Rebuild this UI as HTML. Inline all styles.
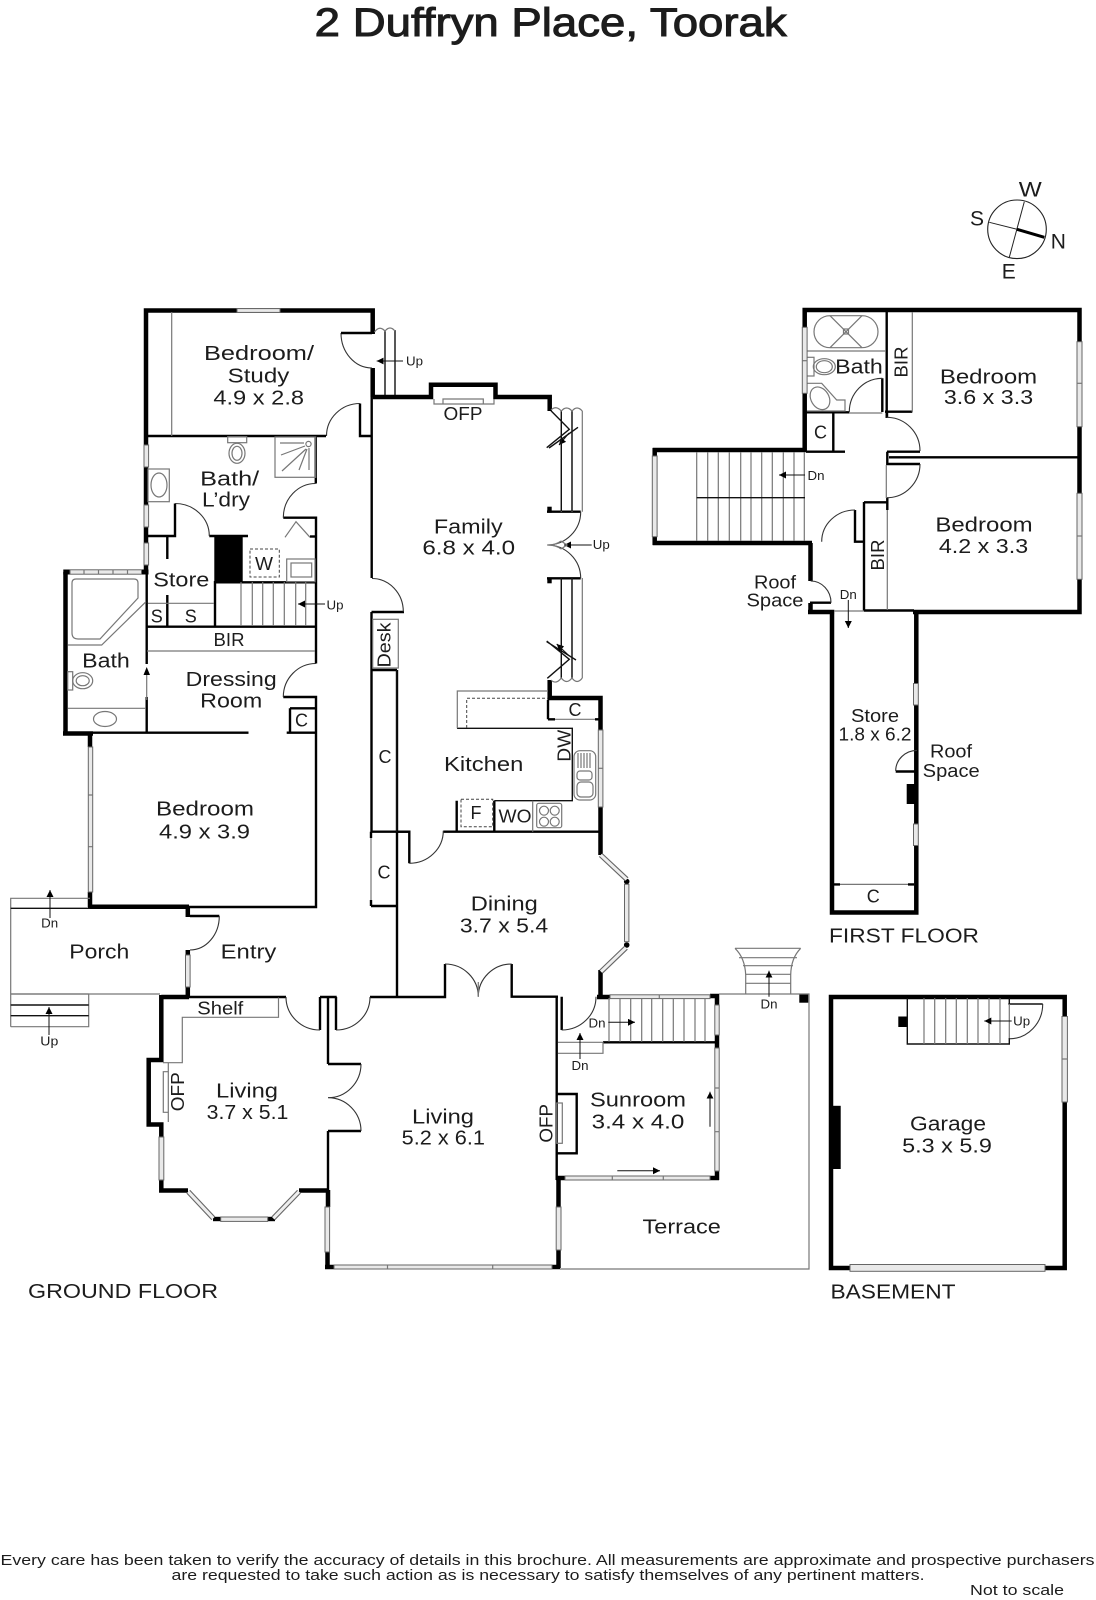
<!DOCTYPE html>
<html lang="en"><head><meta charset="utf-8"><title>2 Duffryn Place, Toorak</title>
<style>
html,body{margin:0;padding:0;background:#fff}
svg{display:block}
text{font-family:"Liberation Sans",sans-serif;fill:#1c1c1c;text-anchor:middle;font-size:20px}
.s{font-size:18px}.x{font-size:12.5px}
.t{stroke:#000;stroke-width:4.5;fill:none}
.m{stroke:#000;stroke-width:2.4;fill:none}
.n{stroke:#111;stroke-width:1.4;fill:none}
.g{stroke:#777;stroke-width:1.2;fill:none}
.a{stroke:#333;stroke-width:1.1;fill:none}
.d{stroke:#444;stroke-width:1;fill:none;stroke-dasharray:3 2}
.w{fill:#e9e9e9;stroke:#666;stroke-width:1}
.wl{stroke:#666;stroke-width:5.2;fill:none}
.wi{stroke:#eee;stroke-width:3;fill:none}
.f{stroke:#111;stroke-width:1;fill:none}
</style></head><body>
<svg xmlns="http://www.w3.org/2000/svg" width="1096" height="1600" viewBox="0 0 1096 1600">
<defs><marker id="h" markerUnits="userSpaceOnUse" markerWidth="8" markerHeight="8" refX="7" refY="3.5" orient="auto"><path d="M0 0L7 3.5L0 7Z" fill="#000"/></marker></defs>
<rect width="1096" height="1600" fill="#fff"/>

<text x="550.7" y="36" style="font-size:40px;stroke:#1c1c1c;stroke-width:1" textLength="472" lengthAdjust="spacingAndGlyphs">2 Duffryn Place, Toorak</text>

<!-- GROUND FLOOR thick walls -->
<path class="t" d="M146 445V310.5H372.7V334M372.7 368V397M372.7 397H431V384.7H495.5V397H549.7V411"/>
<path class="t" d="M146 445V573"/>
<path class="t" d="M65.5 735V572M63 733.5H93M90 733V747M90 892V907M88 906.7H189M187.8 906V917M187.8 950V955M187.8 987V998"/>
<path class="t" d="M161.3 997H189M161.3 995V1060H148.7V1124.5H161.3V1137M161.3 1180V1190.5H188"/>
<path class="t" d="M299 1190.5H328M328 1190V1207M327.5 1252V1268M325 1267H334"/>
<path class="t" d="M549.7 680V698H600.5V730M600.5 806V855M600.5 970V997M597 997H610"/>
<path class="t" d="M710 996H719M717 994V1005M717 1035V1048M710 1178H719M717 1171V1180M556 1178H565M558.5 1178V1207M558.5 1250V1268M552 1267H560"/>
<rect x="63.3" y="569.5" width="7" height="5" fill="#000"/><rect x="141.5" y="569.5" width="7" height="5" fill="#000"/>
<rect x="214.3" y="536.7" width="28.4" height="45" fill="#000"/>
<rect x="799.3" y="994" width="9" height="8.7" fill="#000"/>
<rect x="213" y="1216.8" width="8" height="4.4" fill="#000"/><rect x="267.7" y="1216.8" width="7.3" height="4.4" fill="#000"/>
<rect x="547.3" y="506.7" width="4.4" height="6" fill="#000"/><rect x="547.3" y="578" width="4.4" height="5.3" fill="#000"/>
<circle cx="626.7" cy="881.5" r="2.8" fill="#000"/><circle cx="626.7" cy="945" r="2.8" fill="#000"/>

<!-- steps beside bedroom/study -->
<path class="n" d="M385 330V395M395 330V395"/>
<path class="g" d="M374.5 332Q379.5 325 385 331Q390 325 395 331"/>
<path class="f" d="M403 361H376.7" marker-end="url(#h)"/>
<text class="x" x="414.5" y="365.7" textLength="17" lengthAdjust="spacingAndGlyphs">Up</text>

<!-- ground thin walls -->
<path class="m" d="M146 436H326M360 403.5V436H371M371.7 397V578M371.5 612H404M371.5 612V832M371 831.7H409.3V863.3M371 831.7V838M371 900V906M371 906H397M397 670V997M371 670H397"/>
<path class="m" d="M315.8 436V483.5M283.3 517.7H316V663.5M283.3 697H316V907H189M190 916H219.3"/>
<path class="m" d="M175 503.5V536H148M209.3 536H248M167.3 536V559M167.3 595V626M215 581V626M215 582.3H316M147 626.7H316"/>
<path class="m" d="M146.7 573V664M146.7 697V733M93 732.7H248.5M286.7 732.7H316M290 708.3V732.7M290 708.3H316"/>
<path class="m" d="M189 997H286M320 997V1030M320 997H336.7M328 997V1064M336 997V1030M370 997H445V964M511.7 964V996.7H558M328 1064H361M328 1131H361M328 1131V1190"/>
<path class="m" d="M561.7 996.7V1030M556.7 996.7V1180M556.7 1094H576.7V1153.3H556.7M397 831.7H409.3M443.3 831.7H600.5M456.7 800.7V831.7M494.3 800.7V831.7"/>
<path class="m" d="M547 511.7H580.7M547 578.3H580.7M548 719.3V700M548 719.3H555M595 719.3H600M603 1042.3H715"/>
<path class="n" d="M457 728.3H572.3V800.7H494.3"/>
<path class="g" d="M457.3 728.3V691H548M532.7 800.7V831.7"/>
<path class="d" d="M466.7 728V698.3H548"/>
<path class="g" d="M555 719.3H595"/>
<path class="n" d="M396.7 670V832"/>
<path class="g" d="M371 838V900"/>

<!-- ground arcs -->
<path class="a" d="M341 333A31 35 0 0 0 372 368M360 403.5A33.5 32.5 0 0 0 326.5 436M315.7 483.5A32.4 34.2 0 0 0 283.3 517.7M175 503.5A34.3 32.5 0 0 1 209.3 536M316 663.5A32.7 33.5 0 0 0 283.3 697M219.3 916A29.3 34 0 0 1 190 950M286 997A34 33 0 0 0 320 1030M336 1030A34 33 0 0 0 370 997M361 1064A33 33.7 0 0 1 328 1097.7M328 1097.7A33 33.3 0 0 1 361 1131M372 578.5A31.3 33.2 0 0 1 403.3 611.7M409.3 863.3A34 32.6 0 0 0 443.3 830.7M445 964A33.3 32.7 0 0 1 478.3 996.7M478.3 996.7A33.4 32.7 0 0 1 511.7 964M561.7 1030A34.3 33.3 0 0 0 596 996.7M580.7 511.7A33.4 33.3 0 0 1 547.3 545M547.3 545A33.4 33.3 0 0 1 580.7 578.3"/>
<path class="m" d="M341 333H372"/>
<path class="g" d="M478.3 996.7V982"/>

<!-- ground windows -->
<rect class="w" x="237" y="308.6" width="43" height="3.8"/>
<rect class="w" x="144" y="445" width="4.6" height="22"/><rect class="w" x="144" y="505" width="4.6" height="22"/><rect class="w" x="144" y="543" width="4.6" height="22"/>
<rect class="w" x="70" y="569.8" width="71.5" height="4.4"/><path class="g" d="M84 569.8v4.4M98.5 569.8v4.4M113 569.8v4.4M127.5 569.8v4.4"/>
<rect class="w" x="88.3" y="747" width="4.4" height="145"/><path class="g" d="M88.3 795h4.4M88.3 846.7h4.4"/>
<rect class="w" x="185.5" y="955" width="4.6" height="32"/>
<rect class="w" x="159" y="1137" width="4.8" height="43"/>
<path class="wl" d="M188.3 1191.7L213.3 1218.3M273.3 1218.3L299 1191.7"/><path class="wi" d="M188.3 1191.7L213.3 1218.3M273.3 1218.3L299 1191.7"/>
<rect class="w" x="220.7" y="1217" width="47" height="4.4"/>
<rect class="w" x="325" y="1207" width="4.6" height="45"/>
<rect class="w" x="334" y="1265" width="218" height="4"/><path class="g" d="M387.5 1265v4M492.7 1265v4"/>
<rect class="w" x="556.2" y="1207" width="4.8" height="43"/>
<rect class="w" x="598.3" y="730" width="4.6" height="77"/><path class="g" d="M598.3 768.3h4.6"/>
<path class="wl" d="M600.7 855L626.7 879.3M626 947.7L601 971.7"/><path class="wi" d="M600.7 855L626.7 879.3M626 947.7L601 971.7"/>
<rect class="w" x="624.5" y="884.3" width="4.4" height="57.4"/>
<rect class="w" x="610" y="994.8" width="100" height="3.8"/><path class="g" d="M659.3 994.8v3.8"/>
<rect class="w" x="714.8" y="1005" width="4.4" height="30"/>
<rect class="w" x="714.8" y="1048" width="4.4" height="123"/><path class="g" d="M714.8 1088h4.4M714.8 1131.7h4.4"/>
<rect class="w" x="565" y="1176" width="145" height="4"/><path class="g" d="M612.3 1176v4M663.3 1176v4"/>

<!-- ground fixtures -->
<path class="g" d="M171.7 312V436"/>
<rect class="g" x="227.7" y="436.7" width="19" height="6"/>
<ellipse class="g" cx="237" cy="453.3" rx="8" ry="10"/><ellipse class="g" cx="237" cy="453.3" rx="5" ry="7"/>
<rect class="g" x="275" y="437" width="40.7" height="40.3"/>
<circle class="g" cx="308.5" cy="444" r="2.6"/>
<path class="g" d="M280 443H304M281 455L305 446M282 471L306 449M299 470L307 449M309 448V470"/>
<rect class="g" x="148" y="469" width="21.3" height="32.7"/><ellipse class="g" cx="159" cy="485" rx="8" ry="12"/>
<path class="g" d="M285 537.3L296 521.7L310 537.3"/>
<path class="m" d="M310 536.5H316"/>
<rect class="d" x="250" y="549" width="29.3" height="28"/>
<rect class="g" x="286.7" y="559" width="28.3" height="22.7"/><rect class="g" x="291" y="563" width="20.7" height="14"/>
<path class="g" d="M241 582V626M252.3 582V626M262.7 582V626M273.3 582V626M284.3 582V626M295.7 582V626M305.7 582V626M148 603.3H214"/>
<path class="f" d="M325 604H298" marker-end="url(#h)"/>
<path class="g" d="M147 651H315"/>
<path class="g" d="M72 583Q72 579 76 579H134Q138 579 138 583V598L100 639H78Q72 639 72 633Z"/>
<path class="g" d="M67.7 645H101.7L146 601.7"/>
<rect class="g" x="67.7" y="671.7" width="5" height="18.3"/>
<ellipse class="g" cx="82.7" cy="680.7" rx="10" ry="8"/><ellipse class="g" cx="82.7" cy="680.7" rx="6.5" ry="5"/>
<path class="g" d="M67.7 708.3H146"/><ellipse class="g" cx="105" cy="719" rx="11.5" ry="7.5"/>
<rect x="145.5" y="664" width="2.4" height="33" fill="#fff"/>
<path class="g" d="M146.7 700V673"/><path d="M143.5 675L146.7 667L150 675Z" fill="#000"/>
<rect class="g" x="372.7" y="619.3" width="25.6" height="48.7"/>
<path class="g" d="M10.7 908V898.3H90M10.7 908V994H160M10.7 1026.7H88.7V994M10.7 994V1026.7"/>
<path class="n" d="M10.7 908.3H90M10.7 1005H88.7M10.7 1015.7H88.7"/>
<path class="g" d="M10.7 994H88.7"/>
<path class="f" d="M50 918V890" marker-end="url(#h)"/>
<path class="f" d="M49 1035V1007" marker-end="url(#h)"/>
<path class="g" d="M278.5 997.5V1017.3H182.3V1062.7H163M168.3 1062.7V1122M163.3 1071.7H168.3V1112.3H163.3Z"/>
<path class="g" d="M434 399V404H494V399M443 399H483.3V404H443Z"/>
<path class="n" d="M551 410.7L569.3 429.3L546.7 447.7M549 448L578 427.3"/>
<path class="f" d="M569 433L559 445" marker-end="url(#h)"/>
<path class="n" d="M546.7 641L569.3 659.3L547.3 678.3M546.7 641.7L576 660"/>
<path class="f" d="M568.3 655L556.7 644" marker-end="url(#h)"/>
<path class="g" d="M561.3 411V511.7M572 411V511.7M582.3 411V511.7M561.3 578V678M572 578V678M582.3 578V678"/>
<path class="n" d="M561.3 411V511M572 411V511M561.3 578V678M572 578V678"/>
<path class="g" d="M551 410Q556 405 561.3 411Q566.5 405 572 411Q577 405 582.3 411M551 680Q556 685 561.3 678Q566.5 685 572 678Q577 685 582.3 678"/>
<path class="f" d="M591.7 545H564" marker-end="url(#h)"/>
<path class="g" d="M548 545Q556 545 561 541M548 545Q556 545 561 549M561 541L567 545L561 549"/>
<rect class="g" x="574" y="750.7" width="21.7" height="49.3" rx="6"/>
<path class="g" d="M578 753V768M581 753V768M584 753V768M587 753V768M590 753V768"/>
<rect class="g" x="577" y="771" width="15" height="9" rx="3"/><rect class="g" x="577" y="782" width="16" height="15" rx="4"/>
<rect class="d" x="461" y="799.3" width="31.7" height="27.4"/>
<rect class="g" x="536.7" y="803.3" width="25" height="24.4" rx="2"/>
<circle class="g" cx="544" cy="810.7" r="4.5"/><circle class="g" cx="554.7" cy="810.7" r="4.5"/><circle class="g" cx="544" cy="821.7" r="4.5"/><circle class="g" cx="554.7" cy="821.7" r="4.5"/>
<path class="g" d="M609 998V1041.7M620 998V1041.7M630.7 998V1041.7M641.7 998V1041.7M651.7 998V1041.7M662.7 998V1041.7M673.3 998V1041.7M684 998V1041.7M695 998V1041.7M705 998V1041.7"/>
<path class="g" d="M558 1042.3H603V1053.3H558"/>
<path class="f" d="M608.3 1022.3H635" marker-end="url(#h)"/>
<path class="f" d="M580 1059V1033" marker-end="url(#h)"/>
<rect class="g" x="556.7" y="1103" width="5.6" height="40.3"/>
<path class="f" d="M710 1126.7V1091.7" marker-end="url(#h)"/>
<path class="f" d="M617.3 1170.7H660" marker-end="url(#h)"/>
<path class="g" d="M719 994H809V1269H560"/>
<path class="g" d="M735 948.3H800.7M735 948.3Q745 958 745.7 975V994M800.7 948.3Q791 958 790.7 975V994M739 957.7H797M743 965.7H793M745.7 974.3H790.7M745.7 983.3H790.7"/>
<path class="f" d="M769 996.7V970.7" marker-end="url(#h)"/>

<!-- FIRST FLOOR -->
<path class="t" d="M804.7 327V310H1079.5V342M1079.5 427V493M1079.5 579V612H913M804.7 393V452M652.7 450H806.7M654.7 448V456M654.7 536V545M652.7 543H812M810.5 543V581M810.5 603V612M808 612H834.3M832 610V912.5H916.3V610M916.3 610V684M916.3 705V750M916.3 772V824M916.3 845.5V912"/>
<path class="m" d="M806 412.3H849.3M833.3 412V451M806 451.7H845M886.7 312V418M885 411.7H912.3M882.3 378.3V412M887 412V418M887 451.7H920M887.3 451.7V465M887 464H920M889 457.3H1078M887.3 498V510M864 502.3H888M864 502V611M855 510V541.7H864M864 610.5H914M810 602.7H831M895.7 771.5H916"/>
<rect x="906.7" y="784" width="8.3" height="20" fill="#000"/>
<path class="a" d="M882.3 378.3A33 33.7 0 0 0 849.3 412M886.7 417.3A33.3 33.7 0 0 1 920 451M920 464A33.3 33.7 0 0 1 886.7 497.7M855 510A33.3 31.7 0 0 0 821.7 541.7M810.7 581A20.3 21.7 0 0 1 831 602.7M895.7 771A21.3 20.6 0 0 1 917 750.4"/>
<path class="g" d="M849.3 413H882.3M886.3 465V498M912.3 312V412M887.3 510V610M834 611H864"/>
<path class="g" d="M806 351H886"/>
<path class="g" d="M830 315.7H862A16 16 0 0 1 862 347.7H830A16 16 0 0 1 830 315.7ZM830 315.7L862 347.7M862 315.7L830 347.7"/>
<rect class="g" x="843.5" y="329" width="5" height="5"/>
<rect class="g" x="806.7" y="357.3" width="7.3" height="18.7"/>
<ellipse class="g" cx="824.3" cy="366.7" rx="11" ry="8"/><ellipse class="g" cx="824.3" cy="366.7" rx="8" ry="6"/>
<path class="g" d="M807 383.3H821.7L836.7 400H845V411H807"/><ellipse class="g" cx="820" cy="398.3" rx="9" ry="12" transform="rotate(-30 820 398.3)"/>
<rect class="w" x="802.3" y="327.3" width="4.8" height="66"/><path class="g" d="M802.3 360.7h4.8"/>
<rect class="w" x="1077" y="341.7" width="5" height="85"/><path class="g" d="M1077 383.3h5"/>
<rect class="w" x="1077" y="493.3" width="5" height="86"/><path class="g" d="M1077 536h5"/>
<rect class="w" x="652.3" y="456" width="4.8" height="80.7"/>
<rect class="w" x="913.5" y="683.5" width="4.8" height="21.5"/>
<rect class="w" x="913.5" y="824" width="4.8" height="21.5"/>
<path class="g" d="M696.7 452V541M707.7 452V541M718.3 452V541M729.3 452V541M740.7 452V541M751 452V541M761.7 452V541M772.3 452V541M783.3 452V541M794 452V541M804.3 452V541"/>
<path class="n" d="M696.7 497.7H805"/>
<path class="f" d="M805 475H779" marker-end="url(#h)"/>
<path class="f" d="M848.3 600V628" marker-end="url(#h)"/>
<path class="g" d="M834 884.4H914"/><path class="m" d="M834 884.4H840M908 884.4H914"/>

<!-- compass -->
<circle cx="1017" cy="229.3" r="29.3" fill="none" stroke="#222" stroke-width="1.1"/>
<path d="M989.3 222.3L1017 229.3M1024.3 201.7L1009.3 257.3" stroke="#222" stroke-width="1" fill="none"/>
<path d="M1017 229.3L1044.3 237.3" stroke="#000" stroke-width="3" fill="none"/>

<!-- BASEMENT -->
<path class="t" d="M850 1268H831V997H1064.7V1017M1064.7 1102V1268H1045"/>
<rect class="w" x="850" y="1264.5" width="195" height="6.8"/>
<rect class="w" x="1062" y="1016.5" width="5.4" height="85.5"/><path class="g" d="M1062 1059h5.4"/>
<rect x="833" y="1105.8" width="7.7" height="63.2" fill="#000"/>
<rect x="898.3" y="1016.5" width="9" height="10.5" fill="#000"/>
<path class="n" d="M907.3 998V1044H1009.3V1038M1009.3 998V1004M1008.3 1004H1042.7"/>
<path class="a" d="M1042.7 1004A33.4 34.8 0 0 1 1009.3 1038.8"/>
<path class="g" d="M924 998V1044M934.7 998V1044M945.7 998V1044M956.3 998V1044M967.3 998V1044M978 998V1044M989 998V1044M1000 998V1044M1009.3 1004V1038"/>
<path class="f" d="M1011.7 1021H984.3" marker-end="url(#h)"/>

<!-- room labels -->
<text x="259" y="360" textLength="110" lengthAdjust="spacingAndGlyphs">Bedroom/</text>
<text x="258.5" y="382.7" textLength="61.7" lengthAdjust="spacingAndGlyphs">Study</text>
<text x="258.7" y="404.3" textLength="90.7" lengthAdjust="spacingAndGlyphs">4.9 x 2.8</text>
<text x="229.7" y="485.7" textLength="59" lengthAdjust="spacingAndGlyphs">Bath/</text>
<text x="226" y="506.7" textLength="48" lengthAdjust="spacingAndGlyphs">L’dry</text>
<text x="181.3" y="586.7" textLength="56" lengthAdjust="spacingAndGlyphs">Store</text>
<text class="s" x="156.7" y="622.3">S</text><text class="s" x="190.7" y="622.3">S</text>
<text class="s" x="264" y="570" textLength="18" lengthAdjust="spacingAndGlyphs">W</text>
<text class="x" x="335" y="609.3" textLength="17" lengthAdjust="spacingAndGlyphs">Up</text>
<text class="s" x="229" y="646" textLength="31" lengthAdjust="spacingAndGlyphs">BIR</text>
<text x="106" y="667.7" textLength="47.7" lengthAdjust="spacingAndGlyphs">Bath</text>
<text x="231.2" y="686" textLength="91" lengthAdjust="spacingAndGlyphs">Dressing</text>
<text x="231.2" y="707.3" textLength="62" lengthAdjust="spacingAndGlyphs">Room</text>
<text class="s" x="301.5" y="726.7">C</text>
<text class="s" transform="translate(390.7 645) rotate(-90)" textLength="45" lengthAdjust="spacingAndGlyphs">Desk</text>
<text class="s" x="385" y="763">C</text>
<text class="s" x="384" y="878.3">C</text>
<text x="205" y="815.7" textLength="98" lengthAdjust="spacingAndGlyphs">Bedroom</text>
<text x="204.5" y="838.3" textLength="91" lengthAdjust="spacingAndGlyphs">4.9 x 3.9</text>
<text x="99.3" y="958.3" textLength="60" lengthAdjust="spacingAndGlyphs">Porch</text>
<text x="248.5" y="958.3" textLength="55.7" lengthAdjust="spacingAndGlyphs">Entry</text>
<text class="s" x="220.3" y="1014.3" textLength="46" lengthAdjust="spacingAndGlyphs">Shelf</text>
<text class="x" x="49.7" y="927.7" textLength="17" lengthAdjust="spacingAndGlyphs">Dn</text>
<text class="x" x="49.3" y="1045.7" textLength="18" lengthAdjust="spacingAndGlyphs">Up</text>
<text class="s" transform="translate(184 1091.7) rotate(-90)" textLength="39" lengthAdjust="spacingAndGlyphs">OFP</text>
<text x="247" y="1097.7" textLength="62" lengthAdjust="spacingAndGlyphs">Living</text>
<text x="247.5" y="1119" textLength="81.7" lengthAdjust="spacingAndGlyphs">3.7 x 5.1</text>
<text x="123" y="1298" textLength="190" lengthAdjust="spacingAndGlyphs">GROUND FLOOR</text>
<text class="s" x="463" y="420" textLength="39" lengthAdjust="spacingAndGlyphs">OFP</text>
<text x="468.3" y="533.3" textLength="68.7" lengthAdjust="spacingAndGlyphs">Family</text>
<text x="468.7" y="554.3" textLength="92.7" lengthAdjust="spacingAndGlyphs">6.8 x 4.0</text>
<text class="x" x="601.3" y="549" textLength="17" lengthAdjust="spacingAndGlyphs">Up</text>
<text x="483.7" y="771" textLength="79.3" lengthAdjust="spacingAndGlyphs">Kitchen</text>
<text class="s" x="575" y="716">C</text>
<text class="s" transform="translate(570.7 745.7) rotate(-90)" textLength="32" lengthAdjust="spacingAndGlyphs">DW</text>
<text class="s" x="476" y="819">F</text>
<text class="s" x="515" y="822.7" textLength="33" lengthAdjust="spacingAndGlyphs">WO</text>
<text x="443" y="1123.3" textLength="62" lengthAdjust="spacingAndGlyphs">Living</text>
<text x="443.3" y="1144.3" textLength="83.3" lengthAdjust="spacingAndGlyphs">5.2 x 6.1</text>
<text x="638" y="1106.7" textLength="96" lengthAdjust="spacingAndGlyphs">Sunroom</text>
<text x="638" y="1128.3" textLength="92.7" lengthAdjust="spacingAndGlyphs">3.4 x 4.0</text>
<text x="681.7" y="1233.3" textLength="78.3" lengthAdjust="spacingAndGlyphs">Terrace</text>
<text x="504.3" y="910.7" textLength="67" lengthAdjust="spacingAndGlyphs">Dining</text>
<text x="504" y="932.7" textLength="88.3" lengthAdjust="spacingAndGlyphs">3.7 x 5.4</text>
<text class="s" transform="translate(552.7 1123.3) rotate(-90)" textLength="38.7" lengthAdjust="spacingAndGlyphs">OFP</text>
<text class="x" x="597" y="1027.3" textLength="17" lengthAdjust="spacingAndGlyphs">Dn</text>
<text class="x" x="580" y="1070" textLength="17" lengthAdjust="spacingAndGlyphs">Dn</text>
<text class="x" x="769" y="1008.3" textLength="17" lengthAdjust="spacingAndGlyphs">Dn</text>

<text x="1030.3" y="196.7" style="font-size:21px" textLength="23" lengthAdjust="spacingAndGlyphs">W</text>
<text x="977" y="225.7" style="font-size:21px">S</text>
<text x="1058.3" y="248.3" style="font-size:21px">N</text>
<text x="1008.7" y="278.3" style="font-size:21px">E</text>

<text class="s" x="820.5" y="438.3">C</text>
<text x="859" y="373.3" textLength="47.7" lengthAdjust="spacingAndGlyphs">Bath</text>
<text class="s" transform="translate(907.3 362) rotate(-90)" textLength="31" lengthAdjust="spacingAndGlyphs">BIR</text>
<text x="988.5" y="383.3" textLength="97.3" lengthAdjust="spacingAndGlyphs">Bedroom</text>
<text x="988.5" y="404" textLength="89.3" lengthAdjust="spacingAndGlyphs">3.6 x 3.3</text>
<text x="984" y="531.7" textLength="97.3" lengthAdjust="spacingAndGlyphs">Bedroom</text>
<text x="983.5" y="553" textLength="89.3" lengthAdjust="spacingAndGlyphs">4.2 x 3.3</text>
<text class="s" transform="translate(884 555) rotate(-90)" textLength="31" lengthAdjust="spacingAndGlyphs">BIR</text>
<text class="s" x="775" y="588.3" textLength="42" lengthAdjust="spacingAndGlyphs">Roof</text>
<text class="s" x="775" y="606.7" textLength="57" lengthAdjust="spacingAndGlyphs">Space</text>
<text class="x" x="848.3" y="599" textLength="17" lengthAdjust="spacingAndGlyphs">Dn</text>
<text class="x" x="816" y="480" textLength="17" lengthAdjust="spacingAndGlyphs">Dn</text>
<text class="s" x="875" y="721.9" textLength="48" lengthAdjust="spacingAndGlyphs">Store</text>
<text class="s" x="875" y="740.6" textLength="73" lengthAdjust="spacingAndGlyphs">1.8 x 6.2</text>
<text class="s" x="951" y="757.6" textLength="42" lengthAdjust="spacingAndGlyphs">Roof</text>
<text class="s" x="951.2" y="777" textLength="57" lengthAdjust="spacingAndGlyphs">Space</text>
<text class="s" x="873.3" y="902.7">C</text>
<text x="904" y="942.4" textLength="150" lengthAdjust="spacingAndGlyphs">FIRST FLOOR</text>
<text class="x" x="1021.7" y="1025.4" textLength="17" lengthAdjust="spacingAndGlyphs">Up</text>
<text x="948" y="1130.4" textLength="76" lengthAdjust="spacingAndGlyphs">Garage</text>
<text x="947" y="1152.7" textLength="89.7" lengthAdjust="spacingAndGlyphs">5.3 x 5.9</text>
<text x="893" y="1298.6" textLength="125" lengthAdjust="spacingAndGlyphs">BASEMENT</text>

<text x="547.5" y="1565" style="font-size:15px" textLength="1094" lengthAdjust="spacingAndGlyphs">Every care has been taken to verify the accuracy of details in this brochure.  All measurements are approximate and prospective purchasers</text>
<text x="548" y="1580" style="font-size:15px" textLength="753" lengthAdjust="spacingAndGlyphs">are requested to take such action as is necessary to satisfy themselves of any pertinent matters.</text>
<text x="1017" y="1595" style="font-size:15px" textLength="94" lengthAdjust="spacingAndGlyphs">Not to scale</text>
</svg>
</body></html>
